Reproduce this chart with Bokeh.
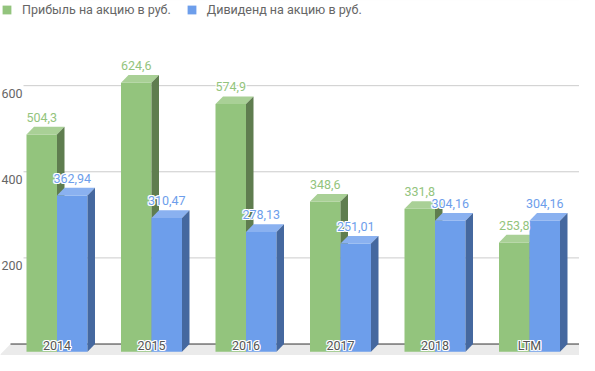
from bokeh.plotting import figure
from bokeh.models import Range1d, LinearAxis, FixedTicker, Legend, LegendItem, ColumnDataSource
from bokeh.core.properties import value
from bokeh.embed import file_html
from bokeh.resources import INLINE

# ---- data ----
categories = ["2014", "2015", "2016", "2017", "2018", "LTM"]
profit = [504.3, 624.6, 574.9, 348.6, 331.8, 253.8]
dividend = [362.94, 310.47, 278.13, 251.01, 304.16, 304.16]
series_names = ["Прибыль на акцию в руб.", "Дивиденд на акцию в руб."]
y_ticks = [200, 400, 600, 800]

# ---- layout constants ----
W, H = 579, 355
SY = H / 371
CAT_PX = 94.5
CAT0_PX = 56.5
x_start = -CAT0_PX / CAT_PX
x_end = (W - CAT0_PX) / CAT_PX
x_axis_pos = (23 - CAT0_PX) / CAT_PX
x_floor = (10 - CAT0_PX) / CAT_PX
y_start, y_end = -12 / 0.45, 359 / 0.45
DEPTH_Y = 8 / 0.45
DEPTH_X = 7.5 / CAT_PX
BAR_W = 30.5 / CAT_PX

FONT = "Roboto"
FS = "12.5px"

p = figure(width=W, height=H, x_range=Range1d(x_start, x_end), y_range=Range1d(y_start, y_end),
           x_axis_location=None, y_axis_location=None, toolbar_location=None,
           output_backend="svg", min_border_left=0, min_border_right=0,
           min_border_top=0, min_border_bottom=0, outline_line_color=None)
for g in p.grid:
    g.visible = False

p.extra_y_ranges = {"front": Range1d(y_start + DEPTH_Y, y_end + DEPTH_Y)}
ax = LinearAxis(y_range_name="front", ticker=FixedTicker(ticks=y_ticks[:3]),
                fixed_location=x_axis_pos,
                axis_line_color=None, major_tick_line_color=None, minor_tick_line_color=None,
                major_tick_out=0, major_tick_in=0, minor_tick_out=0, minor_tick_in=0,
                major_label_standoff=1, major_label_text_color="#666666",
                major_label_text_font=FONT, major_label_text_font_size=FS)
p.add_layout(ax, "left")

n = len(categories)
# horizontal grid lines (start at the axis position like the original)
p.segment(x0=[x_axis_pos] * len(y_ticks), y0=y_ticks, x1=[x_end] * len(y_ticks), y1=y_ticks,
          line_color="#cccccc", line_width=1)
# floor + baseline
p.patch(x=[x_floor, x_end + 1, x_end + 1 - 2 * DEPTH_X, x_floor - 2 * DEPTH_X],
        y=[0, 0, -2 * DEPTH_Y, -2 * DEPTH_Y], fill_color="#ebebeb", line_color=None)
p.segment(x0=[x_floor], y0=[0], x1=[x_end], y1=[0], line_color="#333333", line_width=1)

styles = [
    dict(front="#93c47d", top="#a9d096", side="#5f7d4f", text="#93c47d"),
    dict(front="#6d9eeb", top="#8ab1f0", side="#45689f", text="#6d9eeb"),
]
fronts = []
for s, vals in enumerate([profit, dividend]):
    st = styles[s]
    x0 = [i - BAR_W + s * BAR_W for i in range(n)]
    x1 = [a + BAR_W for a in x0]
    top = [v - DEPTH_Y for v in vals]
    fr = p.quad(left=x0, right=x1, bottom=[-DEPTH_Y] * n, top=top,
                fill_color=st["front"], line_color=None)
    fronts.append(fr)
    p.patches(xs=[[a, b, b + DEPTH_X, a + DEPTH_X] for a, b in zip(x0, x1)],
              ys=[[v - DEPTH_Y, v - DEPTH_Y, v, v] for v in vals],
              fill_color=st["top"], line_color=None)
    p.patches(xs=[[b, b, b + DEPTH_X, b + DEPTH_X] for b in x1],
              ys=[[-DEPTH_Y, v - DEPTH_Y, v, 0] for v in vals],
              fill_color=st["side"], line_color=None)

HALO = [(-1, -1), (-1, 1), (1, -1), (1, 1), (-1, 0), (1, 0), (0, -1), (0, 1)]

def halo_text(src, dy, color):
    for hx, hy in HALO:
        p.text(x="x", y="y", text="t", source=src, x_offset=hx, y_offset=dy + hy,
               text_align="center", text_baseline="middle", text_color="white",
               text_font=value(FONT), text_font_size=FS)
    p.text(x="x", y="y", text="t", source=src, y_offset=dy,
           text_align="center", text_baseline="middle", text_color=color,
           text_font=value(FONT), text_font_size=FS)

for s, vals in enumerate([profit, dividend]):
    src = ColumnDataSource(dict(
        x=[i - BAR_W / 2 + s * BAR_W for i in range(n)],
        y=vals,
        t=[f"{v:g}".replace(".", ",") for v in vals]))
    halo_text(src, -10 * SY, styles[s]["text"])

csrc = ColumnDataSource(dict(x=list(range(n)), y=[0] * n, t=categories))
halo_text(csrc, 2 * SY, "#555555")

legend = Legend(items=[LegendItem(label=series_names[0], renderers=[fronts[0]]),
                       LegendItem(label=series_names[1], renderers=[fronts[1]])],
                orientation="horizontal", location=(1, 338),
                padding=0, margin=0, spacing=15, glyph_width=11, glyph_height=11,
                label_standoff=10, label_text_font=FONT, label_text_font_size=FS,
                label_text_color="#666666", border_line_color=None, background_fill_alpha=0)
p.add_layout(legend)

open("out.html", "w").write(file_html(p, INLINE))
